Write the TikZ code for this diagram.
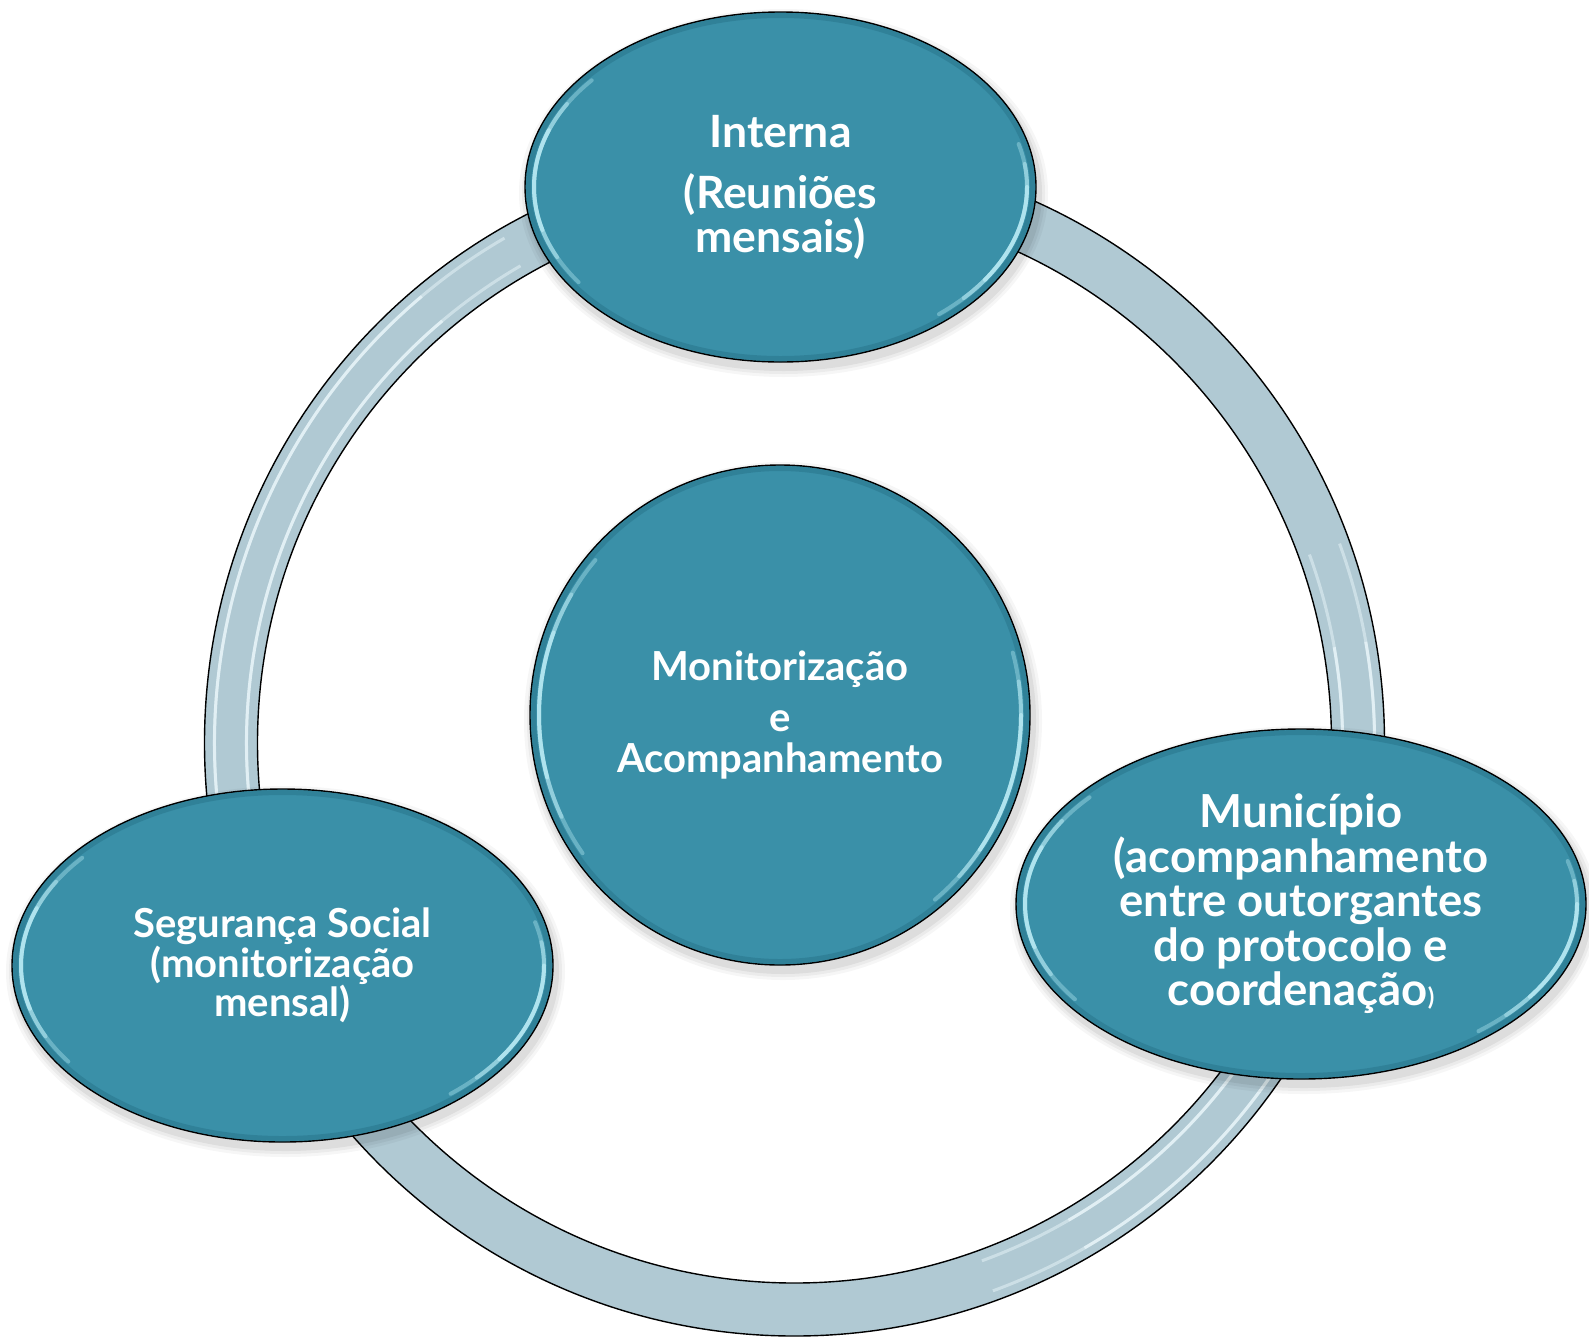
\documentclass[tikz,border=0pt]{standalone}
\usepackage{fontspec}
\setmainfont{Lato}
\usetikzlibrary{shapes.geometric}
\definecolor{bubblefill}{RGB}{58,144,168}
\definecolor{bubbleedge}{RGB}{38,112,134}
\definecolor{ringfill}{RGB}{176,201,211}
\definecolor{glintcol}{RGB}{195,242,250}
\definecolor{ringglint}{RGB}{240,251,254}
\newcommand{\bubbleglint}[4]{%
  \draw[bubbleedge, line width=5pt, opacity=.45] (#1,#2) ellipse [x radius=#3-3.5, y radius=#4-3.5];
  \foreach \a/\b/\o in {-215/-140/.35,-205/-150/.45,-195/-160/.6}{
    \draw[glintcol, line width=4pt, opacity=\o, line cap=round]
      (#1,#2) ++(\a:#3-9 and #4-9) arc[start angle=\a, end angle=\b, x radius=#3-9, y radius=#4-9];
  }
  \foreach \a/\b/\o in {-15/50/.35,-8/42/.45,0/34/.6}{
    \draw[glintcol, line width=4pt, opacity=\o, line cap=round]
      (#1,#2) ++(\a:#3-9 and #4-9) arc[start angle=\a, end angle=\b, x radius=#3-9, y radius=#4-9];
  }
}
\newcommand{\softshadow}[4]{%
  \foreach \s/\o in {9/0.035,6/0.045,3/0.06}{
    \fill[black, opacity=\o] (#1+3,#2+6) ellipse [x radius=#3+\s, y radius=#4+\s];
  }
}
\begin{document}
\begin{tikzpicture}[x=1pt,y=-1pt,
  bubble/.style={ellipse, draw=black, line width=1.4pt, fill=bubblefill,
    text=white, align=center, inner sep=0pt},
  ringline/.style={draw=black, line width=1.4pt},
]
\useasboundingbox (0,0) rectangle (1589,1339);
\fill[white] (0,0) rectangle (1589,1339);

% ring
\fill[ringfill, even odd rule] (794.5,743) ellipse [x radius=590, y radius=593]
  (794.5,743) ellipse [x radius=537, y radius=540];
\foreach \a/\b/\o in {-205/-120/.45,-195/-130/.6}{
  \draw[ringglint, line width=3pt, opacity=\o]
    (794.5,743) ++(\a:580 and 583) arc[start angle=\a, end angle=\b, x radius=580, y radius=583];
  \draw[ringglint, line width=3pt, opacity=\o]
    (794.5,743) ++(\a:548 and 551) arc[start angle=\a, end angle=\b, x radius=548, y radius=551];
}
\foreach \a/\b/\o in {-20/70/.45,-10/60/.6}{
  \draw[ringglint, line width=3pt, opacity=\o]
    (794.5,743) ++(\a:580 and 583) arc[start angle=\a, end angle=\b, x radius=580, y radius=583];
  \draw[ringglint, line width=3pt, opacity=\o]
    (794.5,743) ++(\a:548 and 551) arc[start angle=\a, end angle=\b, x radius=548, y radius=551];
}
\draw[ringline] (794.5,743) ellipse [x radius=590, y radius=593];
\draw[ringline] (794.5,743) ellipse [x radius=537, y radius=540];

% shadows
\softshadow{780.5}{187}{255.5}{175}
\softshadow{780}{715}{250}{250}
\softshadow{1301}{904}{285}{175}
\softshadow{282.5}{965.5}{270.5}{176.5}

% bubbles
\node[bubble, minimum width=511, minimum height=350,
  font={\bfseries\fontsize{44.5}{44}\selectfont}] (interna) at (780.5,187)
  {Interna\\[17pt](Reuniões\\mensais)};
\node[bubble, minimum width=500, minimum height=500,
  font={\bfseries\fontsize{40}{41}\selectfont}] (centro) at (780,715)
  {Monitorização\\[10pt]e\\Acompanhamento};
\node[bubble, minimum width=570, minimum height=350,
  font={\bfseries\fontsize{45.5}{44.5}\selectfont}] (municipio) at (1301,904)
  {Município\\(acompanhamento\\entre outorgantes\\do protocolo e\\coordenação{\fontsize{24}{24}\selectfont)}};
\node[bubble, minimum width=541, minimum height=353,
  font={\bfseries\fontsize{40}{38.5}\selectfont}] (seguranca) at (282.5,965.5)
  {Segurança Social\\(monitorização\\mensal)};

\bubbleglint{780.5}{187}{255.5}{175}
\bubbleglint{780}{715}{250}{250}
\bubbleglint{1301}{904}{285}{175}
\bubbleglint{282.5}{965.5}{270.5}{176.5}
\end{tikzpicture}
\end{document}
